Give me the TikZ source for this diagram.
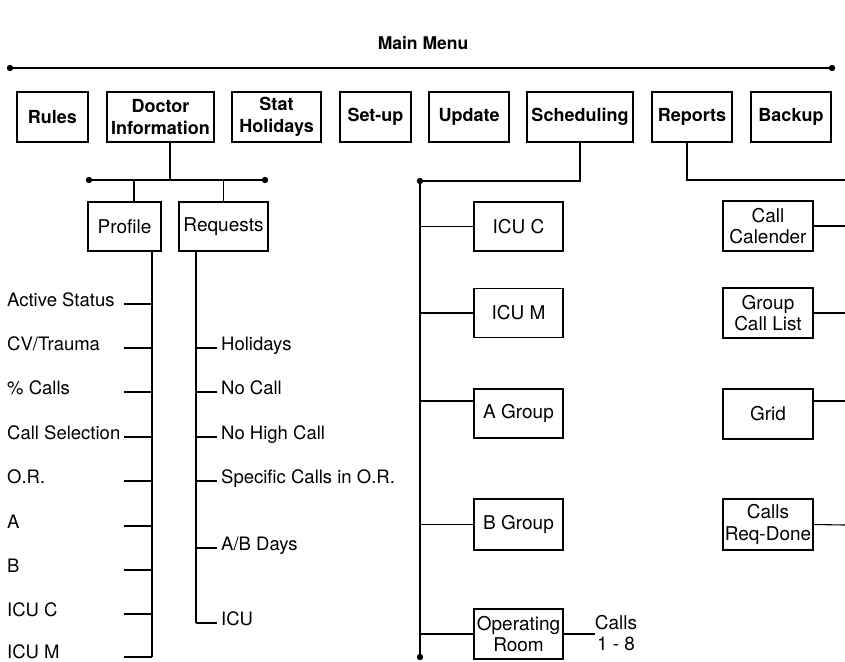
\documentclass[tikz,border=0pt]{standalone}
\usepackage{fontspec}
\setmainfont{TeX Gyre Heros}
\begin{document}
\begin{tikzpicture}[x=1pt,y=-1pt,
  topbox/.style={draw, line width=1.2pt, minimum height=50pt, inner sep=0pt, align=center,
    font=\bfseries\fontsize{18}{22}\selectfont},
  subbox/.style={draw, line width=1.1pt, minimum height=49pt, inner sep=0pt, align=center,
    font=\fontsize{19}{21.5}\selectfont},
  lbl/.style={inner sep=0pt, font=\fontsize{18.5}{21.5}\selectfont},
  ln/.style={line width=1.1pt},
  bar/.style={line width=1.8pt},
  dot/.style={fill=black}]
\useasboundingbox (0,0) rectangle (845,661);

% title
\node[inner sep=0pt, font=\bfseries\fontsize{17.5}{21}\selectfont] (title) at (423,43) {Main Menu};

% top line
\coordinate (tl) at (10,68);
\coordinate (tr) at (832,68);
\draw[bar] (tl) -- (tr);
\fill[dot] (tl) circle (3.2);
\fill[dot] (tr) circle (3.2);

% top boxes
\node[topbox, minimum width=71pt] (rules) at (52.5,117) {Rules};
\node[topbox, minimum width=107pt] (doc) at (160.5,117) {Doctor\\Information};
\node[topbox, minimum width=89pt] (stat) at (276.5,117) {Stat\\Holidays};
\node[topbox, minimum width=71pt] (setup) at (375.5,117) {Set-up};
\node[topbox, minimum width=80pt] (update) at (469,117) {Update};
\node[topbox, minimum width=106pt] (sched) at (580,117) {Scheduling};
\node[topbox, minimum width=80pt] (rep) at (692,117) {Reports};
\node[topbox, minimum width=80pt] (backup) at (791,117) {Backup};

% doctor information subtree
\coordinate (docj) at (170,180);
\coordinate (sbl) at (89,180);
\coordinate (sbr) at (265,180);
\draw[ln] (doc.south -| docj) -- (docj);
\draw[bar] (sbl) -- (sbr);
\fill[dot] (sbl) circle (3.2);
\fill[dot] (sbr) circle (3.2);

\node[subbox, minimum width=73pt] (prof) at (124.5,226.5) {Profile};
\node[subbox, minimum width=89pt] (req) at (223.5,226.5) {Requests};
\coordinate (pj) at (134,180);
\coordinate (rj) at (223.5,180);
\draw[ln] (pj) -- (prof.north -| pj);
\draw[ln] (rj) -- (req.north);

% profile spine
\coordinate (ptop) at (152,251);
\coordinate (pbot) at (152,657);
\draw[ln] (prof.south -| ptop) -- (pbot);
\foreach \n/\y/\b/\t in {p1/304/306.5/{Active Status}, p2/348/350.5/{CV/Trauma}, p3/392/394.5/{\% Calls},
    p4/437/439.5/{Call Selection}, p5/481/483.5/{O.R.}, p6/526/528.5/{A}, p7/570/572.5/{B},
    p8/614/616.5/{ICU C}, p9/657/658/{ICU M}}{
  \node[lbl, anchor=base west] (\n) at (7,\b) {\t};
  \coordinate (\n e) at (124,\y);
  \draw[ln] (\n e) -- (ptop |- \n e);
}

% requests spine
\coordinate (rtop) at (196,251);
\coordinate (rbot) at (196,623);
\draw[ln] (req.south -| rtop) -- (rbot);
\foreach \n/\y/\t in {r1/348/{Holidays}, r2/392/{No Call}, r3/437/{No High Call},
    r4/481/{Specific Calls in O.R.}, r5/548/{A/B Days}, r6/623/{ICU}}{
  \node[lbl, anchor=base west] (\n) at (221,\y+2.5) {\t};
  \coordinate (\n w) at (217,\y);
  \draw[ln] (rtop |- \n w) -- (\n w);
}

% scheduling subtree
\coordinate (sj) at (580,181);
\coordinate (st) at (420,181);
\coordinate (sb) at (420,657);
\draw[ln] (sched.south) -- (sj) -- (st);
\draw[line width=1.3pt] (st) -- (sb);
\fill[dot] (st) circle (3.2);
\fill[dot] (sb) circle (3.2);

\node[subbox, minimum width=89pt] (icuc) at (518.5,226.5) {ICU C};
\node[subbox, minimum width=89pt] (icum) at (518.5,313) {ICU M};
\node[subbox, minimum width=89pt] (ag) at (518.5,413.5) {A Group};
\node[subbox, minimum width=89pt, minimum height=51pt] (bg) at (518.5,524.5) {B Group};
\node[subbox, minimum width=89pt, minimum height=50pt] (or) at (518.5,634) {Operating\\Room};
\draw[ln] (st |- icuc.west) -- (icuc.west);
\draw[ln] (st |- icum.west) -- (icum.west);
\draw[ln] (420,401) coordinate (agj) -- (ag.west |- agj);
\draw[ln] (st |- bg.west) -- (bg.west);
\draw[ln] (st |- or.west) -- (or.west);
\node[lbl, align=center, font=\fontsize{19}{20.5}\selectfont] (calls) at (616,633) {Calls\\1 - 8};
\draw[ln] (or.east) -- (calls.west |- or.east);

% reports subtree
\coordinate (rpj) at (687,180);
\coordinate (rpe) at (845,180);
\draw[ln] (rep.south -| rpj) -- (rpj) -- (rpe);
\node[subbox, minimum width=90pt, minimum height=50pt] (cc) at (768,226) {Call\\Calender};
\node[subbox, minimum width=90pt, minimum height=50pt] (gcl) at (768,313) {Group\\Call List};
\node[subbox, minimum width=90pt, minimum height=50pt] (grid) at (768,414) {Grid};
\node[subbox, minimum width=90pt, minimum height=51pt] (crd) at (768,524.5) {Calls\\Req-Done};
\coordinate (ccx) at (845,226);
\coordinate (gclx) at (845,313);
\coordinate (gridx) at (845,401);
\coordinate (crdx) at (845,525);
\draw[ln] (cc.east) -- (ccx);
\draw[ln] (gcl.east) -- (gclx);
\draw[ln] (grid.east |- gridx) -- (gridx);
\draw[ln] (crd.east) -- (crdx);
\end{tikzpicture}
\end{document}
